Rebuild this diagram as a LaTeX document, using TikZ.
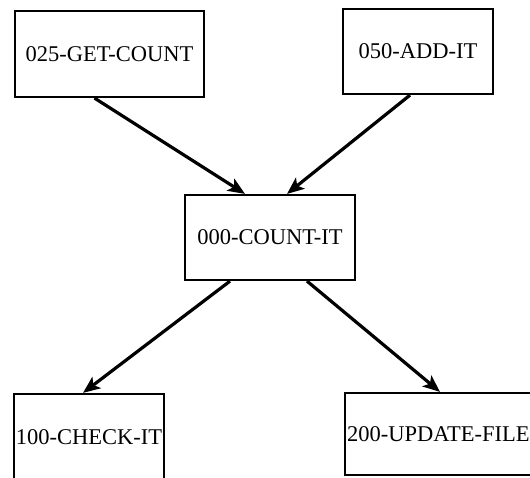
\documentclass[tikz,border=0pt]{standalone}
\usepackage{fontspec}
\setmainfont{Liberation Serif}
\usepackage{tikz}
\usetikzlibrary{positioning,arrows.meta}
\tikzset{
	every node/.style = {inner sep = 2pt},
	module/.style = {draw, rectangle, line width=2.2pt, font=\fontsize{22.5}{26}\selectfont},
	flow/.style = {->, line width=3.2pt},
	>={Stealth[length=17pt,width=14pt,inset=4pt]}
}

\begin{document}
\begin{tikzpicture}[x=1pt,y=1pt]
		\path[use as bounding box, clip] (0,0) rectangle (530,477);
		\node[module, minimum width=170, minimum height=85] at (270,239.5) (countit) {000-COUNT-IT};
		\node[module, minimum width=189, minimum height=86] at (109.5,423) (getcount) {025-GET-COUNT};
		\node[module, minimum width=150, minimum height=85] at (418,425.5) (addit) {050-ADD-IT};
		\node[module, minimum width=150, minimum height=86] at (89,40) (checkit) {100-CHECK-IT};
		\node[module, anchor=west, text width=216, align=left, minimum height=82] at (344,43) (updatefile) {200-UPDATE-FILE};
		
		\draw[flow] ([xshift=-15]getcount.south) -- ([xshift=-25]countit.north);
		\draw[flow] ([xshift=-8]addit.south) -- ([xshift=17]countit.north);
		
		\draw[flow] ([xshift=-40]countit.south) -- ([xshift=-6]checkit.north);
		\draw[flow] ([xshift=37]countit.south) -- ([xshift=96]updatefile.north west);
\end{tikzpicture}
\end{document}
